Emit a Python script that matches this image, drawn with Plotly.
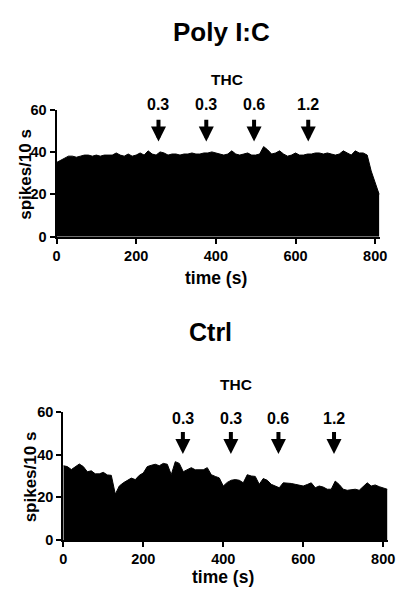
import plotly.graph_objects as go

# ---- data ----
t_sec = list(range(0, 820, 10))  # 0..810 s, 10 s bins

polyic_rate = [35, 36, 37, 38, 38, 37.5, 38, 38.5, 38.5, 38, 38.5, 38, 38.5, 38.5, 38.5, 39.5,
               38.5, 38, 39, 38, 38.5, 39.5, 38.5, 40.5, 39, 38.5, 40, 39.5, 38.5, 39, 39,
               38.5, 39, 39, 39.5, 39, 39, 39.5, 39.5, 40, 39.5, 39, 38.5, 39, 40.5, 39,
               38.5, 39, 39.5, 38.5, 38.5, 39, 42.5, 41, 39, 39.5, 40.5, 39, 38, 38.5, 39.5,
               38.5, 38.5, 39, 39, 39.5, 39.5, 39, 39.5, 39, 38.5, 39, 40.5, 39.5, 38.5, 40.5,
               39.5, 39.5, 38.5, 31, 25, 20]

ctrl_rate = [34.8, 34.4, 33, 34.5, 35.6, 34.4, 32, 32.4, 31, 31, 31.7, 30.5, 30.3, 21.5, 25.3,
             26.8, 28, 29, 28.3, 30.3, 31.4, 34.4, 35, 35.5, 34.8, 35.9, 35.5, 30.6, 36.7, 35.9,
             32, 33, 33.9, 32.9, 33, 32.9, 33.9, 30.6, 29.8, 29.1, 25.3, 27, 28, 28.3, 28,
             26.8, 30.6, 30, 29.8, 26.1, 28.8, 28, 26.1, 25.3, 24.5, 26.8, 26.8, 26.5, 26.1,
             25.8, 25.3, 26, 26.8, 24.5, 25.3, 24.8, 23.8, 23.8, 27.6, 26, 23.8, 23.3, 23.5,
             23.8, 23.3, 25, 26.8, 25.3, 25.8, 25, 24.5, 23.8]

polyic_thc_times = [256, 376, 496, 632]
ctrl_thc_times = [299, 419, 538, 677]
thc_doses = ["0.3", "0.3", "0.6", "1.2"]

x_ticks = [0, 200, 400, 600, 800]
y_ticks = [0, 20, 40, 60]

W, H = 399, 598
FONT = "Liberation Sans, Arial, sans-serif"


def py(p):
    return (H - p) / H


def px(p):
    return p / W


fig = go.Figure()
fig.add_trace(go.Scatter(x=t_sec, y=polyic_rate, mode="lines", fill="tozeroy",
                         line=dict(color="black", width=1), fillcolor="black",
                         xaxis="x", yaxis="y", showlegend=False, hoverinfo="skip"))
fig.add_trace(go.Scatter(x=t_sec, y=ctrl_rate, mode="lines", fill="tozeroy",
                         line=dict(color="black", width=1), fillcolor="black",
                         xaxis="x2", yaxis="y2", showlegend=False, hoverinfo="skip"))

axis_common = dict(showline=True, linecolor="black", linewidth=2, ticks="outside",
                   ticklen=5, tickwidth=2, tickcolor="black", showgrid=False,
                   zeroline=False, tickfont=dict(family=FONT, size=14.5, color="black", weight="bold"))

fig.update_layout(
    width=W, height=H, margin=dict(l=0, r=0, t=0, b=0),
    paper_bgcolor="white", plot_bgcolor="white",
    xaxis=dict(domain=[px(54), px(386.6)], range=[0, 812], tickvals=x_ticks,
               anchor="y", **axis_common),
    yaxis=dict(domain=[py(235), py(104.3)], range=[0, 60], tickvals=y_ticks,
               anchor="x", **axis_common),
    xaxis2=dict(domain=[px(61), px(394.9)], range=[0, 812], tickvals=x_ticks,
                anchor="y2", **axis_common),
    yaxis2=dict(domain=[py(546.7), py(415)], range=[0, 60], tickvals=y_ticks,
                anchor="x2", **axis_common),
)

ann = []
bold = lambda s: dict(family=FONT, size=s, color="black", weight="bold")

# panel titles
ann.append(dict(text="Poly I:C", x=px(224), y=py(25), xref="paper", yref="paper",
                showarrow=False, font=bold(26), xanchor="center", yanchor="middle"))
ann.append(dict(text="Ctrl", x=px(212), y=py(333), xref="paper", yref="paper",
                showarrow=False, font=bold(25), xanchor="center", yanchor="middle"))

# axis titles
ann.append(dict(text="time (s)", x=px(218), y=py(277), xref="paper", yref="paper",
                showarrow=False, font=bold(17.5), xanchor="center", yanchor="middle"))
ann.append(dict(text="time (s)", x=px(225), y=py(585), xref="paper", yref="paper",
                showarrow=False, font=bold(17.5), xanchor="center", yanchor="middle"))
ann.append(dict(text="spikes/10 s", x=px(22), y=py(171), xref="paper", yref="paper",
                showarrow=False, font=bold(17), textangle=-90, xanchor="center", yanchor="middle"))
ann.append(dict(text="spikes/10 s", x=px(27), y=py(482), xref="paper", yref="paper",
                showarrow=False, font=bold(17), textangle=-90, xanchor="center", yanchor="middle"))

# THC labels and arrows
panels = [("x", "y", polyic_thc_times, 44.9, 55.9, 99, 427, 73),
          ("x2", "y2", ctrl_thc_times, 40.3, 51.3, 421.5, 431, 387)]
for xr, yr, times, tip, tail, lab_py, thc_x, thc_py in panels:
    ann.append(dict(text="THC", x=thc_x, y=py(thc_py), xref=xr, yref="paper", showarrow=False,
                    font=bold(15.5), xanchor="center", yanchor="middle"))
    for t, d in zip(times, thc_doses):
        ann.append(dict(text=d, x=t, y=py(lab_py), xref=xr, yref="paper", showarrow=False,
                        font=bold(16), xanchor="center", yanchor="middle"))
        ann.append(dict(text="", x=t, y=tip, ax=t, ay=tail, xref=xr, yref=yr,
                        axref=xr, ayref=yr, showarrow=True, arrowhead=2, arrowsize=0.75,
                        arrowwidth=4, arrowcolor="black", standoff=0))

fig.update_layout(annotations=ann)
fig.write_html("out.html")
